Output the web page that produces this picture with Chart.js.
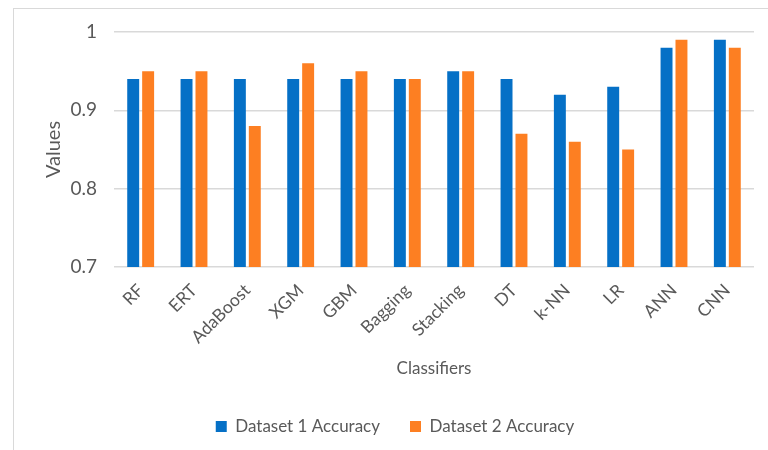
<!DOCTYPE html>
<html>
<head>
<meta charset="utf-8">
<script src="https://cdn.jsdelivr.net/npm/chart.js@4/dist/chart.umd.min.js"></script>
<style>
  html, body { margin: 0; padding: 0; background: #ffffff; }
  #wrap { position: relative; width: 768px; height: 450px; overflow: hidden; }
  #frame { position: absolute; left: 13px; top: 8px; width: 780px; height: 470px; border: 1px solid #d9d9d9; box-sizing: border-box; }
  canvas { position: absolute; left: 0; top: 0; }
</style>
</head>
<body>
<div id="wrap">
  <div id="frame"></div>
  <canvas id="chart" width="768" height="450"></canvas>
</div>
<script>
// Classifier accuracy on two datasets
const classifiers = ['RF', 'ERT', 'AdaBoost', 'XGM', 'GBM', 'Bagging', 'Stacking', 'DT', 'k-NN', 'LR', 'ANN', 'CNN'];
const dataset1Accuracy = [0.94, 0.94, 0.94, 0.94, 0.94, 0.94, 0.95, 0.94, 0.92, 0.93, 0.98, 0.99];
const dataset2Accuracy = [0.95, 0.95, 0.88, 0.96, 0.95, 0.94, 0.95, 0.87, 0.86, 0.85, 0.99, 0.98];
const yTicks = [0.7, 0.8, 0.9, 1];

const textColor = '#595959';
const gridColor = '#d9d9d9';
const fontFamily = 'Lato, "Open Sans", sans-serif';

new Chart(document.getElementById('chart'), {
  type: 'bar',
  data: {
    labels: classifiers,
    datasets: [
      { label: 'Dataset 1 Accuracy', data: dataset1Accuracy, backgroundColor: '#0570c6' },
      { label: 'Dataset 2 Accuracy', data: dataset2Accuracy, backgroundColor: '#fd7f22' }
    ]
  },
  options: {
    responsive: false,
    animation: false,
    devicePixelRatio: 1,
    layout: { padding: { left: 36, right: 14, top: 32, bottom: 5 } },
    datasets: { bar: { categoryPercentage: 0.56, barPercentage: 0.8 } },
    plugins: {
      legend: {
        position: 'bottom',
        labels: {
          boxWidth: 11, boxHeight: 11, padding: 30,
          color: textColor,
          font: { family: fontFamily, size: 17 }
        }
      },
      tooltip: { enabled: false }
    },
    scales: {
      x: {
        grid: { display: false },
        border: { display: false },
        ticks: {
          color: textColor, minRotation: 45, maxRotation: 45, padding: 5,
          font: { family: fontFamily, size: 17.5 }
        },
        title: {
          display: true, text: 'Classifiers', color: textColor,
          font: { family: fontFamily, size: 17 },
          padding: { top: 4, bottom: 9 }
        },
        afterFit: (s) => { s.height = 121; }
      },
      y: {
        min: 0.7, max: 1,
        afterBuildTicks: (s) => { s.ticks = yTicks.map(v => ({ value: v })); },
        grid: { color: gridColor, lineWidth: 1.5, drawTicks: false },
        border: { display: false },
        ticks: {
          color: textColor, padding: 17,
          font: { family: fontFamily, size: 19 },
          callback: (v) => String(v)
        },
        title: {
          display: true, text: 'Values', color: textColor,
          font: { family: fontFamily, size: 20 },
          padding: { top: 6, bottom: 0 }
        },
        afterFit: (s) => { s.width = 78; }
      }
    }
  }
});
</script>
</body>
</html>
